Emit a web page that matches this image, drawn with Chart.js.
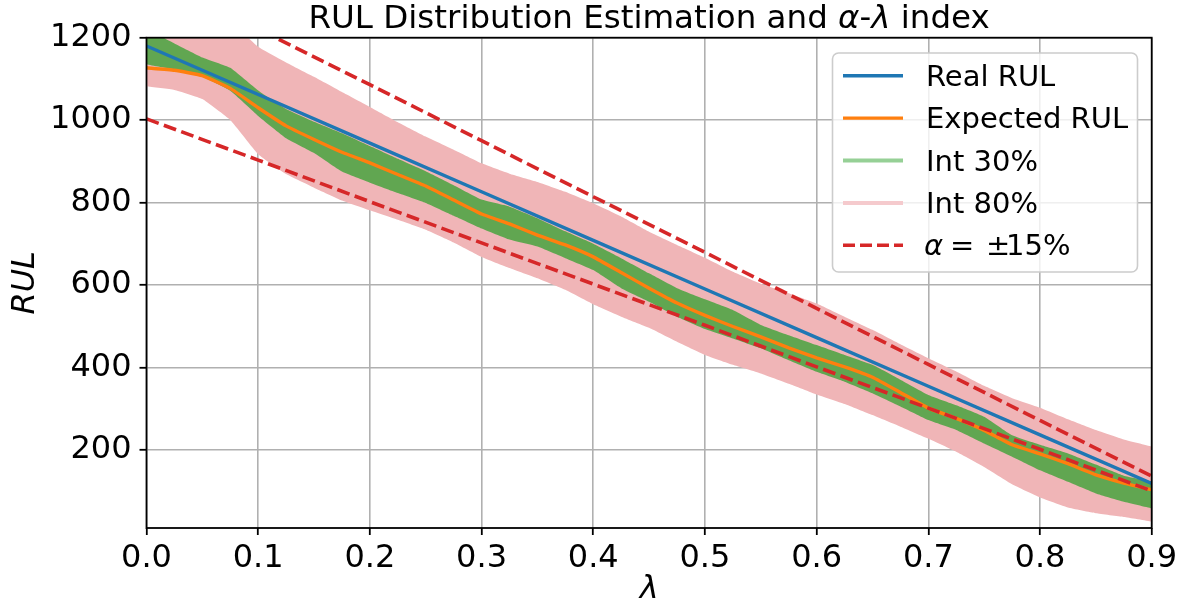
<!DOCTYPE html>
<html><head><meta charset="utf-8">
<script src="https://cdn.jsdelivr.net/npm/chart.js@4.4.0/dist/chart.umd.min.js"></script>
<style>html,body{margin:0;padding:0;background:#fff;overflow:hidden}#c{display:block}</style>
</head><body>
<canvas id="c" width="1183" height="609"></canvas>
<script>
// ---- data ----
const lambdaGrid = [0, 0.025, 0.05, 0.075, 0.1, 0.125, 0.15, 0.175, 0.2, 0.225, 0.25, 0.275, 0.3, 0.325, 0.35, 0.375, 0.4, 0.425, 0.45, 0.475, 0.5, 0.525, 0.55, 0.575, 0.6, 0.625, 0.65, 0.675, 0.7, 0.725, 0.75, 0.775, 0.8, 0.825, 0.85, 0.875, 0.9];
const expectedRUL = [1127, 1121, 1108, 1077, 1030, 986, 953, 922, 896, 868, 840, 806, 772, 748, 721, 697, 668, 630, 592, 556, 526, 499, 474, 447, 423, 401, 376, 339, 301, 276, 247, 212, 190, 166, 139, 119, 103];
const int30Upper = [1222, 1186, 1152, 1127, 1072, 1027, 996, 968, 937, 906, 876, 842, 807, 790, 762, 730, 700, 665, 628, 592, 565, 539, 503, 478, 454, 430, 406, 370, 333, 308, 280, 235, 212, 191, 164, 137, 123];
const int30Lower = [1135, 1123, 1105, 1071, 1010, 956, 920, 875, 848, 823, 799, 768, 737, 710, 693, 665, 636, 592, 559, 523, 493, 470, 446, 417, 389, 365, 337, 305, 272, 248, 215, 183, 150, 122, 94, 74, 58];
const int80Upper = [1320, 1310, 1290, 1240, 1178, 1140, 1105, 1068, 1032, 995, 960, 928, 895, 870, 850, 826, 798, 766, 729, 697, 666, 632, 603, 580, 555, 523, 491, 456, 422, 390, 355, 325, 302, 274, 248, 225, 208];
const int80Lower = [1082, 1073, 1051, 1000, 917, 869, 836, 805, 781, 758, 734, 703, 668, 641, 616, 588, 553, 523, 496, 462, 430, 406, 385, 360, 334, 311, 284, 256, 227, 195, 158, 116, 84, 60, 46, 37, 26];
const lambdaCoarse = [0, 0.1, 0.2, 0.3, 0.4, 0.5, 0.6, 0.7, 0.8, 0.9];
const realRUL = [1180, 1062, 944, 826, 708, 590, 472, 354, 236, 118];
const alphaUpper = [1357, 1221, 1086, 950, 814, 679, 543, 407, 271, 136];
const alphaLower = [1003, 903, 802, 702, 602, 502, 401, 301, 201, 100];
const xTicks = [0, 0.1, 0.2, 0.3, 0.4, 0.5, 0.6, 0.7, 0.8, 0.9];
const yTicks = [200, 400, 600, 800, 1000, 1200];

// ---- styling ----
const FONT = "'DejaVu Sans', sans-serif";
Chart.defaults.font.family = FONT;
const C_BLUE = '#1f77b4', C_ORANGE = '#ff7f0e', C_RED = '#d62728';
const C_GREEN_FILL = '#61a651', C_PINK_FILL = 'rgb(240,181,183)';
const C_GREEN_LEG = 'rgb(150,208,150)', C_PINK_LEG = 'rgb(245,202,205)';
const pts = (xs, ys) => xs.map((x, i) => ({x: x, y: ys[i]}));
const DASH = [13, 5.5];
const TICK_SIZE = 32;
const TENSION = 0.12;

const decor = {
  id: 'decor',
  afterDatasetsDraw(chart) {
    const ctx = chart.ctx, a = chart.chartArea;
    ctx.save();
    ctx.strokeStyle = '#000';
    ctx.lineWidth = 1.8;
    ctx.strokeRect(a.left, a.top, a.right - a.left, a.bottom - a.top);
    ctx.restore();
  },
  afterDraw(chart) {
    const ctx = chart.ctx, a = chart.chartArea;
    // title with mixed styles
    const segs = [['RUL Distribution Estimation and ', ''], ['α', 'italic '], ['-', ''], ['λ', 'italic '], [' index', '']];
    const tsize = 32.5;
    ctx.save();
    ctx.fillStyle = '#000';
    ctx.textBaseline = 'alphabetic';
    let total = 0;
    segs.forEach(s => { ctx.font = s[1] + tsize + 'px ' + FONT; total += ctx.measureText(s[0]).width; });
    let x = (a.left + a.right) / 2 - total / 2;
    segs.forEach(s => { ctx.font = s[1] + tsize + 'px ' + FONT; ctx.fillText(s[0], x, 28); x += ctx.measureText(s[0]).width; });
    ctx.restore();

    // legend
    ctx.save();
    const bx = 832.5, by = 53, bw = 305, bh = 219, r = 6;
    ctx.beginPath();
    ctx.moveTo(bx + r, by);
    ctx.arcTo(bx + bw, by, bx + bw, by + bh, r);
    ctx.arcTo(bx + bw, by + bh, bx, by + bh, r);
    ctx.arcTo(bx, by + bh, bx, by, r);
    ctx.arcTo(bx, by, bx + bw, by, r);
    ctx.closePath();
    ctx.fillStyle = 'rgba(255,255,255,0.8)';
    ctx.fill();
    ctx.strokeStyle = '#cccccc';
    ctx.lineWidth = 1.6;
    ctx.stroke();
    const items = [
      {text: 'Real RUL', color: C_BLUE, w: 3.4},
      {text: 'Expected RUL', color: C_ORANGE, w: 3.4},
      {text: 'Int 30%', color: C_GREEN_LEG, w: 4},
      {text: 'Int 80%', color: C_PINK_LEG, w: 4},
      {text: null, color: C_RED, w: 3.6, dash: [12, 5]}
    ];
    const lsize = 29;
    items.forEach((it, i) => {
      const cy = 75.7 + i * 42.4;
      ctx.beginPath();
      ctx.setLineDash(it.dash || []);
      ctx.strokeStyle = it.color;
      ctx.lineWidth = it.w;
      ctx.moveTo(843, cy); ctx.lineTo(903, cy);
      ctx.stroke();
      ctx.setLineDash([]);
      ctx.fillStyle = '#000';
      ctx.textBaseline = 'alphabetic';
      if (it.text) {
        ctx.font = lsize + 'px ' + FONT;
        ctx.fillText(it.text, 926, cy + 10);
      } else {
        ctx.font = 'italic ' + lsize + 'px ' + FONT;
        ctx.fillText('α', 924, cy + 10);
        ctx.font = lsize + 'px ' + FONT;
        ctx.fillText('=', 950, cy + 10);
        ctx.fillText('±', 986, cy + 10);
        ctx.fillText('15%', 1006, cy + 10);
      }
    });
    ctx.restore();
  }
};

new Chart(document.getElementById('c'), {
  type: 'line',
  data: {
    datasets: [
      {label: 'Expected RUL', data: pts(lambdaGrid, expectedRUL), borderColor: C_ORANGE, borderWidth: 3.4, pointRadius: 0, fill: false, order: 1, clip: 0, tension: TENSION},
      {label: 'Real RUL', data: pts(lambdaCoarse, realRUL), borderColor: C_BLUE, borderWidth: 3.4, pointRadius: 0, fill: false, order: 2, clip: 0},
      {label: 'α upper', data: pts(lambdaCoarse, alphaUpper), borderColor: C_RED, borderWidth: 3.6, borderDash: DASH, pointRadius: 0, fill: false, order: 0, clip: 0},
      {label: 'α lower', data: pts(lambdaCoarse, alphaLower), borderColor: C_RED, borderWidth: 3.6, borderDash: DASH, pointRadius: 0, fill: false, order: 0, clip: 0},
      {label: 'Int 30% upper', data: pts(lambdaGrid, int30Upper), borderWidth: 0, borderColor: 'transparent', backgroundColor: C_GREEN_FILL, pointRadius: 0, fill: '+1', order: 3, clip: 0, tension: TENSION},
      {label: 'Int 30% lower', data: pts(lambdaGrid, int30Lower), borderWidth: 0, borderColor: 'transparent', pointRadius: 0, fill: false, order: 3, clip: 0, tension: TENSION},
      {label: 'Int 80% upper', data: pts(lambdaGrid, int80Upper), borderWidth: 0, borderColor: 'transparent', backgroundColor: C_PINK_FILL, pointRadius: 0, fill: '+1', order: 4, clip: 0, tension: TENSION},
      {label: 'Int 80% lower', data: pts(lambdaGrid, int80Lower), borderWidth: 0, borderColor: 'transparent', pointRadius: 0, fill: false, order: 4, clip: 0, tension: TENSION}
    ]
  },
  options: {
    responsive: false,
    animation: false,
    devicePixelRatio: 1,
    layout: {padding: {left: 0, top: 37.7, right: 31.3, bottom: 0}},
    plugins: {legend: {display: false}, tooltip: {enabled: false}, title: {display: false}},
    scales: {
      x: {
        type: 'linear', min: 0, max: 0.9,
        afterBuildTicks: s => { s.ticks = xTicks.map(v => ({value: v})); },
        afterFit: s => { s.height = 609 - 528; },
        ticks: {callback: v => Number(v).toFixed(1), font: {size: TICK_SIZE}, color: '#000', padding: 4, maxRotation: 0, autoSkip: false},
        grid: {color: '#b0b0b0', lineWidth: 1.6, tickLength: 7, tickColor: '#000', tickWidth: 1.8, drawTicks: true},
        border: {display: false},
        title: {display: true, text: 'λ', font: {size: TICK_SIZE, style: 'italic'}, color: '#000', padding: {top: 0, bottom: 0}}
      },
      y: {
        type: 'linear', min: 10, max: 1200,
        afterBuildTicks: s => { s.ticks = yTicks.map(v => ({value: v})); },
        afterFit: s => { s.width = 146.5; },
        ticks: {callback: v => String(v), font: {size: TICK_SIZE}, color: '#000', padding: 8},
        grid: {color: '#b0b0b0', lineWidth: 1.6, tickLength: 7, tickColor: '#000', tickWidth: 1.8, drawTicks: true},
        border: {display: false},
        title: {display: true, text: 'RUL', font: {size: TICK_SIZE, style: 'italic'}, color: '#000', padding: {top: 6, bottom: 0}}
      }
    }
  },
  plugins: [decor]
});
</script>
</body></html>
